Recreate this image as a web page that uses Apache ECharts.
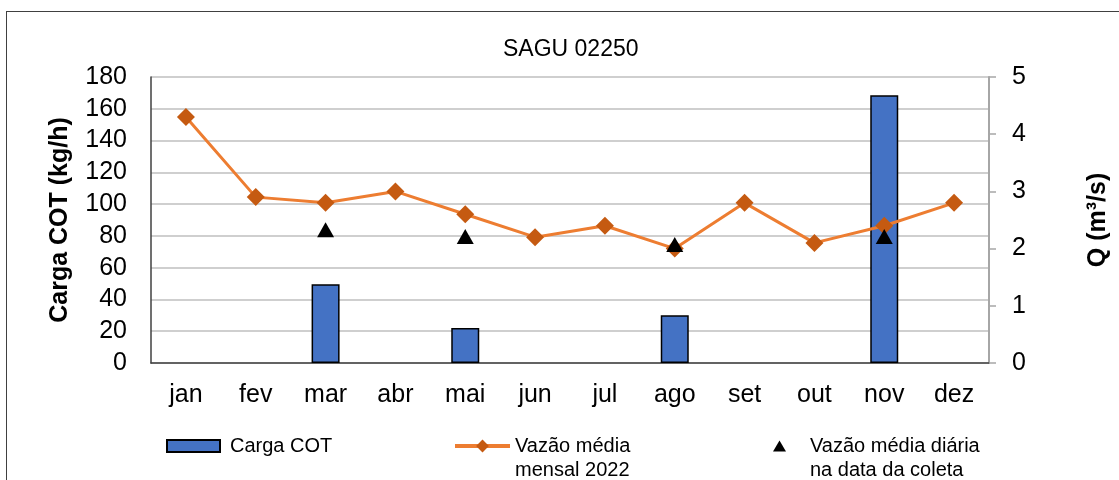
<!DOCTYPE html>
<html>
<head>
<meta charset="utf-8">
<script src="https://cdn.jsdelivr.net/npm/echarts@6/dist/echarts.min.js"></script>
<style>
  html, body { margin: 0; padding: 0; background: #fff; overflow: hidden; }
  #frame { position: absolute; left: 6px; top: 11px; width: 2000px; height: 2000px;
           border-top: 1.5px solid #404040; border-left: 1.5px solid #404040; }
  #chart { position: absolute; left: 0; top: 0; width: 1119px; height: 480px; }
</style>
</head>
<body>
<div id="frame"></div>
<div id="chart"></div>
<script>
// dados
const months = ['jan', 'fev', 'mar', 'abr', 'mai', 'jun', 'jul', 'ago', 'set', 'out', 'nov', 'dez']
const cargaCOT = [null, null, 49.5, null, 22, null, null, 30, null, null, 168.5, null]
const vazaoMensal = [4.3, 2.9, 2.8, 3.0, 2.6, 2.2, 2.4, 2.0, 2.8, 2.1, 2.4, 2.8]
const vazaoDiaria = [null, null, 2.33, null, 2.21, null, null, 2.07, null, null, 2.21, null]
const leftTicks = { min: 0, max: 180, interval: 20 }
const rightTicks = { min: 0, max: 5, interval: 1 }

const font = "'Liberation Sans', Arial, sans-serif"
const dash = v => (v == null ? '-' : v)

const chart = echarts.init(document.getElementById('chart'), null, { renderer: 'canvas' })

// legend texts with two lines: an empty first line keeps the icon level with the first text line
const legendText = { fontFamily: font, fontSize: 20, color: '#000', lineHeight: 24 }

chart.setOption({
  animation: false,
  textStyle: { fontFamily: font, color: '#000' },
  title: {
    text: 'SAGU 02250',
    left: 498, top: 33,
    textStyle: { fontFamily: font, fontSize: 23, fontWeight: 'normal', color: '#000' }
  },
  grid: { left: 151, right: 128, top: 77, bottom: 117, containLabel: false },
  legend: [
    {
      data: [{ name: 'Carga COT', icon: 'rect' }],
      left: 166, top: 434, padding: 0,
      itemWidth: 53, itemHeight: 12,
      textStyle: { ...legendText, padding: [0, 0, 0, 5] }
    },
    {
      data: ['Vazão média mensal 2022'],
      left: 453, top: 410, padding: 0,
      itemWidth: 55, itemHeight: 16,
      lineStyle: { width: 4 },
      itemStyle: { color: '#c55a11' },
      formatter: () => '\nVazão média\nmensal 2022',
      textStyle: legendText
    },
    {
      data: [{ name: 'Vazão média diária na data da coleta', icon: 'triangle' }],
      left: 773, top: 410, padding: 0,
      itemWidth: 13, itemHeight: 11,
      formatter: () => '\nVazão média diária\nna data da coleta',
      textStyle: { ...legendText, padding: [0, 0, 0, 19] }
    }
  ],
  xAxis: {
    type: 'category',
    data: months,
    axisLine: { lineStyle: { color: '#404040', width: 1.5 } },
    axisTick: { show: false },
    axisLabel: { fontFamily: font, fontSize: 25, color: '#000', margin: 20 }
  },
  yAxis: [
    {
      type: 'value',
      min: leftTicks.min, max: leftTicks.max, interval: leftTicks.interval,
      name: 'Carga COT (kg/h)',
      nameLocation: 'middle',
      nameGap: 78,
      nameTextStyle: { fontFamily: font, fontSize: 25, fontWeight: 'bold', color: '#000' },
      axisLine: { show: true, lineStyle: { color: '#404040', width: 1.5 } },
      axisTick: { show: false },
      axisLabel: { fontFamily: font, fontSize: 25, color: '#000', margin: 24 },
      splitLine: { show: true, lineStyle: { color: '#bfbfbf', width: 1.5 } }
    },
    {
      type: 'value',
      position: 'right',
      min: rightTicks.min, max: rightTicks.max, interval: rightTicks.interval,
      name: 'Q (m³/s)',
      nameLocation: 'middle',
      nameGap: 97,
      nameTextStyle: { fontFamily: font, fontSize: 25, fontWeight: 'bold', color: '#000' },
      axisLine: { show: true, lineStyle: { color: '#a6a6a6', width: 2 } },
      axisTick: { show: true, inside: false, length: 7, lineStyle: { color: '#a6a6a6', width: 1.5 } },
      axisLabel: { fontFamily: font, fontSize: 25, color: '#000', margin: 23 },
      splitLine: { show: false }
    }
  ],
  series: [
    {
      name: 'Carga COT',
      type: 'bar',
      yAxisIndex: 0,
      barWidth: 28,
      data: cargaCOT.map(dash),
      itemStyle: { color: '#4472c4', borderColor: '#000', borderWidth: 1.5 }
    },
    {
      name: 'Vazão média mensal 2022',
      type: 'line',
      yAxisIndex: 1,
      z: 3,
      data: vazaoMensal,
      symbol: 'diamond',
      symbolSize: 18,
      lineStyle: { color: '#ed7d31', width: 3 },
      itemStyle: { color: '#c55a11' }
    },
    {
      name: 'Vazão média diária na data da coleta',
      type: 'scatter',
      yAxisIndex: 1,
      z: 6,
      data: vazaoDiaria.map(dash),
      symbol: 'triangle',
      symbolSize: [17, 15],
      itemStyle: { color: '#000', opacity: 1 }
    }
  ]
})
</script>
</body>
</html>
